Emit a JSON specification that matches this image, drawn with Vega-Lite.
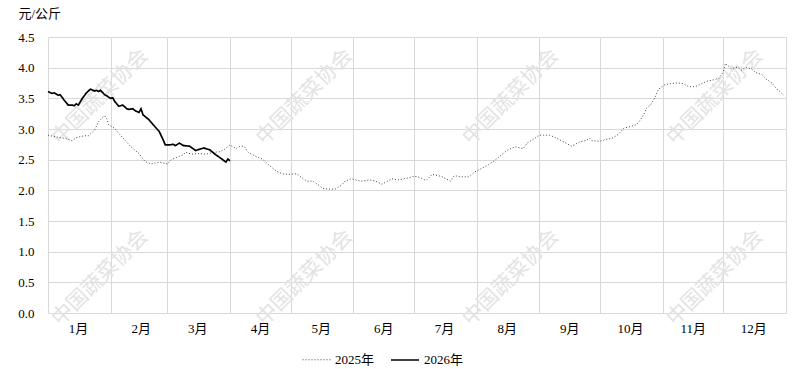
{
  "$schema": "https://vega.github.io/schema/vega-lite/v6.json",
  "width": 738,
  "height": 276,
  "autosize": {"type": "none"},
  "padding": {"left": 48, "top": 37, "right": 7, "bottom": 56},
  "background": "white",
  "config": {
    "font": "Liberation Serif, Noto Sans CJK SC",
    "view": {"stroke": null}
  },
  "datasets": {
    "marks": [
      {"date": "2025/01/27", "value": 3.52, "label": "中国蔬菜协会"},
      {"date": "2025/05/08", "value": 3.52, "label": "中国蔬菜协会"},
      {"date": "2025/08/18", "value": 3.52, "label": "中国蔬菜协会"},
      {"date": "2025/11/27", "value": 3.52, "label": "中国蔬菜协会"},
      {"date": "2025/01/27", "value": 0.57, "label": "中国蔬菜协会"},
      {"date": "2025/05/08", "value": 0.57, "label": "中国蔬菜协会"},
      {"date": "2025/08/18", "value": 0.57, "label": "中国蔬菜协会"},
      {"date": "2025/11/27", "value": 0.57, "label": "中国蔬菜协会"}
    ],
    "prices": [
      {"series": "2025年", "date": "2025/01/01", "value": 2.90},
      {"series": "2025年", "date": "2025/01/05", "value": 2.87},
      {"series": "2025年", "date": "2025/01/09", "value": 2.85},
      {"series": "2025年", "date": "2025/01/13", "value": 2.81},
      {"series": "2025年", "date": "2025/01/15", "value": 2.86},
      {"series": "2025年", "date": "2025/01/19", "value": 2.89},
      {"series": "2025年", "date": "2025/01/21", "value": 2.89},
      {"series": "2025年", "date": "2025/01/24", "value": 2.98},
      {"series": "2025年", "date": "2025/01/26", "value": 3.12},
      {"series": "2025年", "date": "2025/01/29", "value": 3.22},
      {"series": "2025年", "date": "2025/01/30", "value": 3.17},
      {"series": "2025年", "date": "2025/01/31", "value": 3.07},
      {"series": "2025年", "date": "2025/02/03", "value": 3.01},
      {"series": "2025年", "date": "2025/02/05", "value": 2.93},
      {"series": "2025年", "date": "2025/02/08", "value": 2.82},
      {"series": "2025年", "date": "2025/02/11", "value": 2.71},
      {"series": "2025年", "date": "2025/02/15", "value": 2.60},
      {"series": "2025年", "date": "2025/02/18", "value": 2.47},
      {"series": "2025年", "date": "2025/02/21", "value": 2.43},
      {"series": "2025年", "date": "2025/02/25", "value": 2.46},
      {"series": "2025年", "date": "2025/03/01", "value": 2.43},
      {"series": "2025年", "date": "2025/03/03", "value": 2.50},
      {"series": "2025年", "date": "2025/03/05", "value": 2.53},
      {"series": "2025年", "date": "2025/03/09", "value": 2.58},
      {"series": "2025年", "date": "2025/03/10", "value": 2.62},
      {"series": "2025年", "date": "2025/03/13", "value": 2.59},
      {"series": "2025年", "date": "2025/03/17", "value": 2.60},
      {"series": "2025年", "date": "2025/03/20", "value": 2.59},
      {"series": "2025年", "date": "2025/03/24", "value": 2.62},
      {"series": "2025年", "date": "2025/03/27", "value": 2.63},
      {"series": "2025年", "date": "2025/03/29", "value": 2.66},
      {"series": "2025年", "date": "2025/04/01", "value": 2.74},
      {"series": "2025年", "date": "2025/04/04", "value": 2.68},
      {"series": "2025年", "date": "2025/04/06", "value": 2.72},
      {"series": "2025年", "date": "2025/04/08", "value": 2.72},
      {"series": "2025年", "date": "2025/04/10", "value": 2.62},
      {"series": "2025年", "date": "2025/04/14", "value": 2.55},
      {"series": "2025年", "date": "2025/04/17", "value": 2.51},
      {"series": "2025年", "date": "2025/04/20", "value": 2.42},
      {"series": "2025年", "date": "2025/04/24", "value": 2.31},
      {"series": "2025年", "date": "2025/04/27", "value": 2.27},
      {"series": "2025年", "date": "2025/04/30", "value": 2.26},
      {"series": "2025年", "date": "2025/05/04", "value": 2.27},
      {"series": "2025年", "date": "2025/05/06", "value": 2.22},
      {"series": "2025年", "date": "2025/05/09", "value": 2.15},
      {"series": "2025年", "date": "2025/05/12", "value": 2.15},
      {"series": "2025年", "date": "2025/05/15", "value": 2.08},
      {"series": "2025年", "date": "2025/05/17", "value": 2.03},
      {"series": "2025年", "date": "2025/05/20", "value": 2.02},
      {"series": "2025年", "date": "2025/05/23", "value": 2.02},
      {"series": "2025年", "date": "2025/05/26", "value": 2.08},
      {"series": "2025年", "date": "2025/05/28", "value": 2.15},
      {"series": "2025年", "date": "2025/05/31", "value": 2.19},
      {"series": "2025年", "date": "2025/06/02", "value": 2.17},
      {"series": "2025年", "date": "2025/06/05", "value": 2.15},
      {"series": "2025年", "date": "2025/06/09", "value": 2.17},
      {"series": "2025年", "date": "2025/06/12", "value": 2.15},
      {"series": "2025年", "date": "2025/06/15", "value": 2.10},
      {"series": "2025年", "date": "2025/06/18", "value": 2.15},
      {"series": "2025年", "date": "2025/06/20", "value": 2.19},
      {"series": "2025年", "date": "2025/06/23", "value": 2.17},
      {"series": "2025年", "date": "2025/06/25", "value": 2.18},
      {"series": "2025年", "date": "2025/06/29", "value": 2.21},
      {"series": "2025年", "date": "2025/07/01", "value": 2.23},
      {"series": "2025年", "date": "2025/07/04", "value": 2.21},
      {"series": "2025年", "date": "2025/07/07", "value": 2.16},
      {"series": "2025年", "date": "2025/07/10", "value": 2.26},
      {"series": "2025年", "date": "2025/07/13", "value": 2.24},
      {"series": "2025年", "date": "2025/07/15", "value": 2.22},
      {"series": "2025年", "date": "2025/07/19", "value": 2.15},
      {"series": "2025年", "date": "2025/07/21", "value": 2.24},
      {"series": "2025年", "date": "2025/07/24", "value": 2.22},
      {"series": "2025年", "date": "2025/07/28", "value": 2.22},
      {"series": "2025年", "date": "2025/07/29", "value": 2.24},
      {"series": "2025年", "date": "2025/07/31", "value": 2.30},
      {"series": "2025年", "date": "2025/08/03", "value": 2.35},
      {"series": "2025年", "date": "2025/08/07", "value": 2.42},
      {"series": "2025年", "date": "2025/08/10", "value": 2.49},
      {"series": "2025年", "date": "2025/08/13", "value": 2.57},
      {"series": "2025年", "date": "2025/08/16", "value": 2.65},
      {"series": "2025年", "date": "2025/08/20", "value": 2.71},
      {"series": "2025年", "date": "2025/08/24", "value": 2.68},
      {"series": "2025年", "date": "2025/08/26", "value": 2.77},
      {"series": "2025年", "date": "2025/08/29", "value": 2.83},
      {"series": "2025年", "date": "2025/09/01", "value": 2.90},
      {"series": "2025年", "date": "2025/09/06", "value": 2.90},
      {"series": "2025年", "date": "2025/09/09", "value": 2.86},
      {"series": "2025年", "date": "2025/09/13", "value": 2.79},
      {"series": "2025年", "date": "2025/09/17", "value": 2.72},
      {"series": "2025年", "date": "2025/09/21", "value": 2.79},
      {"series": "2025年", "date": "2025/09/24", "value": 2.81},
      {"series": "2025年", "date": "2025/09/26", "value": 2.85},
      {"series": "2025年", "date": "2025/09/27", "value": 2.81},
      {"series": "2025年", "date": "2025/10/01", "value": 2.80},
      {"series": "2025年", "date": "2025/10/04", "value": 2.83},
      {"series": "2025年", "date": "2025/10/07", "value": 2.85},
      {"series": "2025年", "date": "2025/10/10", "value": 2.91},
      {"series": "2025年", "date": "2025/10/13", "value": 3.02},
      {"series": "2025年", "date": "2025/10/15", "value": 3.03},
      {"series": "2025年", "date": "2025/10/19", "value": 3.07},
      {"series": "2025年", "date": "2025/10/21", "value": 3.15},
      {"series": "2025年", "date": "2025/10/23", "value": 3.26},
      {"series": "2025年", "date": "2025/10/24", "value": 3.34},
      {"series": "2025年", "date": "2025/10/26", "value": 3.39},
      {"series": "2025年", "date": "2025/10/28", "value": 3.50},
      {"series": "2025年", "date": "2025/10/30", "value": 3.65},
      {"series": "2025年", "date": "2025/11/02", "value": 3.72},
      {"series": "2025年", "date": "2025/11/05", "value": 3.74},
      {"series": "2025年", "date": "2025/11/08", "value": 3.75},
      {"series": "2025年", "date": "2025/11/11", "value": 3.74},
      {"series": "2025年", "date": "2025/11/14", "value": 3.69},
      {"series": "2025年", "date": "2025/11/17", "value": 3.69},
      {"series": "2025年", "date": "2025/11/21", "value": 3.75},
      {"series": "2025年", "date": "2025/11/23", "value": 3.78},
      {"series": "2025年", "date": "2025/11/26", "value": 3.80},
      {"series": "2025年", "date": "2025/11/29", "value": 3.83},
      {"series": "2025年", "date": "2025/12/01", "value": 3.93},
      {"series": "2025年", "date": "2025/12/02", "value": 4.07},
      {"series": "2025年", "date": "2025/12/04", "value": 4.01},
      {"series": "2025年", "date": "2025/12/05", "value": 3.98},
      {"series": "2025年", "date": "2025/12/08", "value": 4.01},
      {"series": "2025年", "date": "2025/12/10", "value": 3.96},
      {"series": "2025年", "date": "2025/12/12", "value": 4.01},
      {"series": "2025年", "date": "2025/12/15", "value": 3.98},
      {"series": "2025年", "date": "2025/12/17", "value": 3.92},
      {"series": "2025年", "date": "2025/12/20", "value": 3.89},
      {"series": "2025年", "date": "2025/12/22", "value": 3.82},
      {"series": "2025年", "date": "2025/12/25", "value": 3.75},
      {"series": "2025年", "date": "2025/12/27", "value": 3.67},
      {"series": "2025年", "date": "2025/12/30", "value": 3.58},
      {"series": "2025年", "date": "2025/12/31", "value": 3.55},
      {"series": "2026年", "date": "2025/01/01", "value": 3.61},
      {"series": "2026年", "date": "2025/01/03", "value": 3.58},
      {"series": "2026年", "date": "2025/01/04", "value": 3.59},
      {"series": "2026年", "date": "2025/01/06", "value": 3.55},
      {"series": "2026年", "date": "2025/01/07", "value": 3.56},
      {"series": "2026年", "date": "2025/01/09", "value": 3.47},
      {"series": "2026年", "date": "2025/01/11", "value": 3.39},
      {"series": "2026年", "date": "2025/01/13", "value": 3.39},
      {"series": "2026年", "date": "2025/01/14", "value": 3.38},
      {"series": "2026年", "date": "2025/01/15", "value": 3.41},
      {"series": "2026年", "date": "2025/01/16", "value": 3.39},
      {"series": "2026年", "date": "2025/01/18", "value": 3.50},
      {"series": "2026年", "date": "2025/01/20", "value": 3.59},
      {"series": "2026年", "date": "2025/01/22", "value": 3.65},
      {"series": "2026年", "date": "2025/01/24", "value": 3.62},
      {"series": "2026年", "date": "2025/01/25", "value": 3.63},
      {"series": "2026年", "date": "2025/01/26", "value": 3.61},
      {"series": "2026年", "date": "2025/01/27", "value": 3.63},
      {"series": "2026年", "date": "2025/01/29", "value": 3.56},
      {"series": "2026年", "date": "2025/02/01", "value": 3.50},
      {"series": "2026年", "date": "2025/02/02", "value": 3.51},
      {"series": "2026年", "date": "2025/02/03", "value": 3.45},
      {"series": "2026年", "date": "2025/02/05", "value": 3.37},
      {"series": "2026年", "date": "2025/02/07", "value": 3.39},
      {"series": "2026年", "date": "2025/02/09", "value": 3.33},
      {"series": "2026年", "date": "2025/02/10", "value": 3.32},
      {"series": "2026年", "date": "2025/02/12", "value": 3.33},
      {"series": "2026年", "date": "2025/02/13", "value": 3.30},
      {"series": "2026年", "date": "2025/02/15", "value": 3.27},
      {"series": "2026年", "date": "2025/02/16", "value": 3.33},
      {"series": "2026年", "date": "2025/02/17", "value": 3.23},
      {"series": "2026年", "date": "2025/02/20", "value": 3.15},
      {"series": "2026年", "date": "2025/02/22", "value": 3.07},
      {"series": "2026年", "date": "2025/02/25", "value": 2.96},
      {"series": "2026年", "date": "2025/02/27", "value": 2.82},
      {"series": "2026年", "date": "2025/02/28", "value": 2.74},
      {"series": "2026年", "date": "2025/03/02", "value": 2.74},
      {"series": "2026年", "date": "2025/03/04", "value": 2.75},
      {"series": "2026年", "date": "2025/03/05", "value": 2.73},
      {"series": "2026年", "date": "2025/03/07", "value": 2.77},
      {"series": "2026年", "date": "2025/03/09", "value": 2.73},
      {"series": "2026年", "date": "2025/03/12", "value": 2.72},
      {"series": "2026年", "date": "2025/03/15", "value": 2.65},
      {"series": "2026年", "date": "2025/03/17", "value": 2.67},
      {"series": "2026年", "date": "2025/03/19", "value": 2.69},
      {"series": "2026年", "date": "2025/03/22", "value": 2.66},
      {"series": "2026年", "date": "2025/03/25", "value": 2.58},
      {"series": "2026年", "date": "2025/03/28", "value": 2.51},
      {"series": "2026年", "date": "2025/03/30", "value": 2.46},
      {"series": "2026年", "date": "2025/03/31", "value": 2.51},
      {"series": "2026年", "date": "2025/04/01", "value": 2.48}
    ]
  },
  "encoding": {
    "x": {
      "field": "date",
      "type": "temporal",
      "scale": {"domain": [{"year": 2025, "month": 1, "date": 1}, {"year": 2026, "month": 1, "date": 1}]},
      "axis": {
        "title": null,
        "tickCount": {"interval": "month", "step": 1},
        "labelExpr": "year(datum.value) > 2025 ? '' : (month(datum.value) + 1) + '月'",
        "labelOffset": 30,
        "labelFlush": false,
        "labelOverlap": false,
        "labelBound": false,
        "ticks": false,
        "domain": false,
        "grid": true,
        "gridColor": "#d9d9d9",
        "labelFontSize": 13,
        "labelColor": "#000000",
        "labelPadding": 9
      }
    },
    "y": {
      "field": "value",
      "type": "quantitative",
      "scale": {"domain": [0, 4.5], "nice": false},
      "axis": {
        "title": "元/公斤",
        "titleAngle": 0,
        "titleAlign": "left",
        "titleBaseline": "top",
        "titleX": -30,
        "titleY": -30,
        "titleFontSize": 13,
        "titleFontWeight": "normal",
        "titleColor": "#000000",
        "values": [0, 0.5, 1, 1.5, 2, 2.5, 3, 3.5, 4, 4.5],
        "format": ".1f",
        "domain": false,
        "ticks": false,
        "gridColor": "#d9d9d9",
        "labelFontSize": 13,
        "labelColor": "#000000",
        "labelPadding": 14
      }
    }
  },
  "layer": [
    {
      "data": {"name": "marks"},
      "mark": {"type": "text", "angle": -45, "fontSize": 21, "color": "#e3e3e3", "font": "Noto Sans CJK SC", "align": "center", "baseline": "middle"},
      "encoding": {"text": {"field": "label"}}
    },
    {
      "data": {"name": "prices"},
      "mark": {"type": "line", "interpolate": "linear"},
      "encoding": {
        "color": {
          "field": "series",
          "type": "nominal",
          "scale": {"domain": ["2025年", "2026年"], "range": ["#444444", "#000000"]},
          "legend": {
            "title": null,
            "orient": "none",
            "direction": "horizontal",
            "legendX": 254,
            "legendY": 308,
            "symbolType": "stroke",
            "symbolSize": 784,
            "symbolStrokeWidth": 1.3,
            "labelFontSize": 13,
            "labelColor": "#000000",
            "labelOffset": 4,
            "columnPadding": 12
          }
        },
        "strokeDash": {
          "field": "series",
          "type": "nominal",
          "scale": {"domain": ["2025年", "2026年"], "range": [[1, 2], [1, 0]]},
          "legend": {
            "title": null,
            "orient": "none",
            "direction": "horizontal",
            "legendX": 254,
            "legendY": 308,
            "symbolType": "stroke",
            "symbolSize": 784,
            "labelFontSize": 13,
            "labelOffset": 4,
            "columnPadding": 12
          }
        },
        "strokeWidth": {
          "field": "series",
          "type": "nominal",
          "scale": {"domain": ["2025年", "2026年"], "range": [1, 1.7]},
          "legend": null
        }
      }
    }
  ]
}
